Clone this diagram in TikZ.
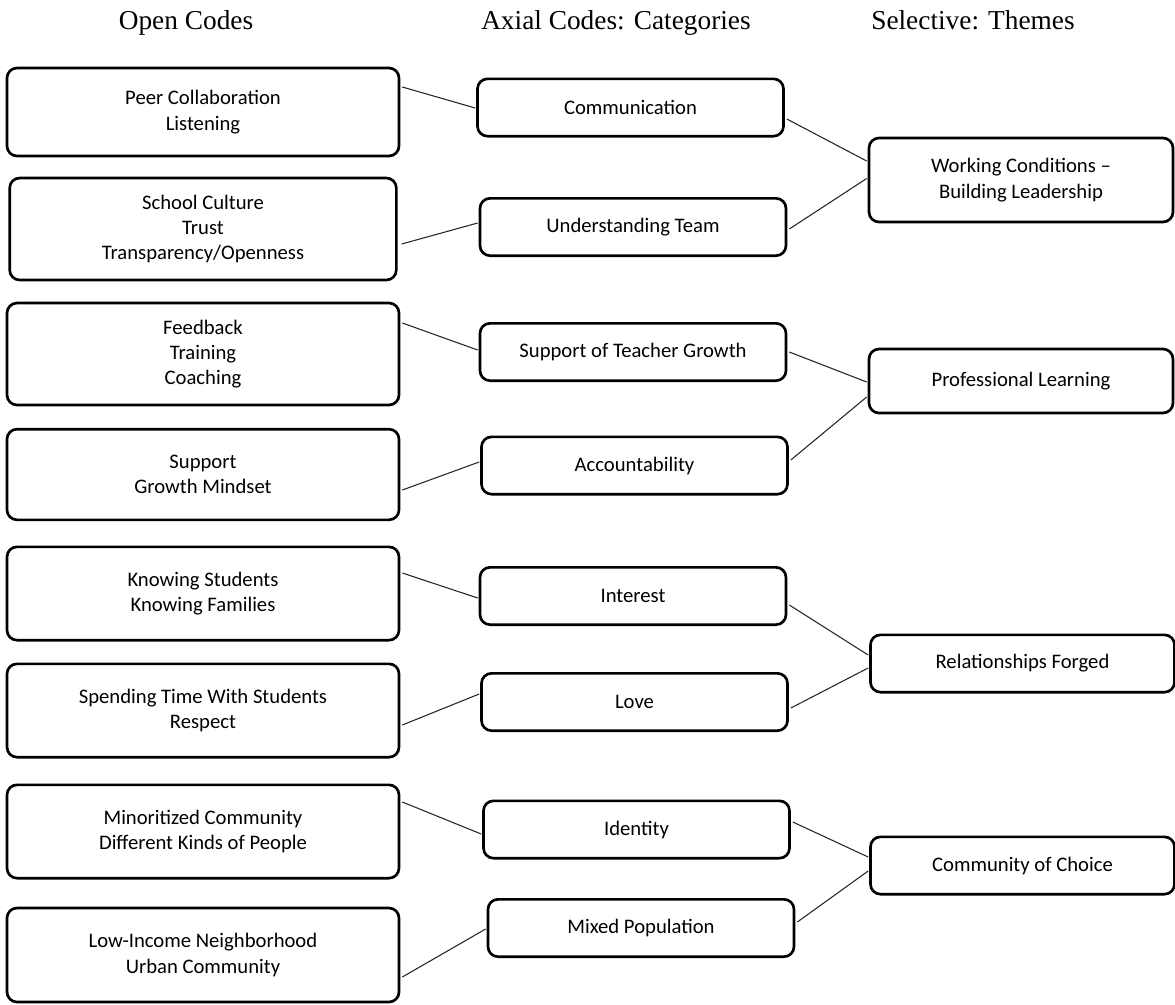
\documentclass[tikz,border=0pt]{standalone}
\usepackage{fontspec}
\setmainfont{Liberation Serif}
\newfontfamily\codefont{Carlito}
\usetikzlibrary{calc}

\tikzset{
  header/.style={anchor=base,inner sep=0pt,font=\fontsize{20.5}{24}\selectfont},
  codebox/.style={draw=black,line width=2pt,rounded corners=7.5pt,align=center,inner sep=0pt,
    font=\codefont\fontsize{15.5}{19}\selectfont},
  opencode/.style={codebox,minimum width=294pt},
  axialcode/.style={codebox,minimum width=229.5pt,minimum height=43pt},
  themebox/.style={codebox,minimum width=228pt},
  link/.style={draw=black!85,line width=0.8pt}
}

\begin{document}
\begin{tikzpicture}[x=0.75pt,y=-0.75pt]
\useasboundingbox (0,0) rectangle (1175,1004);

\node[header] (hopen) at (186,29.5) {Open Codes};
\node[header] (haxial) at (616,29.5) {Axial Codes: Categories};
\node[header] (htheme) at (973,29.5) {Selective: Themes};

\node[opencode,minimum height=66pt] (peer) at (203,112) {Peer Collaboration\\Listening};
\node[opencode,minimum height=76.5pt,minimum width=290pt] (culture) at (203,229) {School Culture\\Trust\\Transparency/Openness};
\node[opencode,minimum height=76.5pt] (feedback) at (203,354) {Feedback\\Training\\Coaching};
\node[opencode,minimum height=68pt] (support) at (203,474.5) {Support\\Growth Mindset};
\node[opencode,minimum height=70pt] (knowing) at (203,593.5) {Knowing Students\\Knowing Families};
\node[opencode,minimum height=70pt] (spending) at (203,710.5) {Spending Time With Students\\Respect};
\node[opencode,minimum height=70pt] (minority) at (203,831.5) {Minoritized Community\\Different Kinds of People};
\node[opencode,minimum height=70.5pt] (lowincome) at (203,955) {Low-Income Neighborhood\\Urban Community};

\node[axialcode] (comm) at (630.5,107.5) {Communication};
\node[axialcode] (team) at (633,227) {Understanding Team};
\node[axialcode] (growth) at (633,352) {Support of Teacher Growth};
\node[axialcode] (account) at (634.5,465.5) {Accountability};
\node[axialcode] (interest) at (633,596) {Interest};
\node[axialcode] (love) at (634.5,702) {Love};
\node[axialcode] (identity) at (636.5,829.5) {Identity};
\node[axialcode] (mixed) at (641,928) {Mixed Population};

\node[themebox,minimum height=63pt] (working) at (1021,180) {Working Conditions –\\Building Leadership};
\node[themebox,minimum height=48pt] (proflearn) at (1021,381) {Professional Learning};
\node[themebox,minimum height=43pt] (relations) at (1022.5,663.5) {Relationships Forged};
\node[themebox,minimum height=43pt] (choice) at (1022.5,865.5) {Community of Choice};

\draw[link] ($(peer.east)+(2,-25)$) -- ($(comm.west)+(-1,0.5)$);
\draw[link] ($(culture.east)+(4,15)$) -- ($(team.west)+(-1,-4)$);
\draw[link] ($(feedback.east)+(2,-31)$) -- ($(growth.west)+(-1,-2)$);
\draw[link] ($(support.east)+(2,15.5)$) -- ($(account.west)+(-1,-3.5)$);
\draw[link] ($(knowing.east)+(2,-20.5)$) -- ($(interest.west)+(-1,2)$);
\draw[link] ($(spending.east)+(2,14.5)$) -- ($(love.west)+(-1,-8)$);
\draw[link] ($(minority.east)+(2,-29.5)$) -- ($(identity.west)+(-1,4.5)$);
\draw[link] ($(lowincome.east)+(2,22)$) -- ($(mixed.west)+(-1,1)$);

\draw[link] ($(comm.east)+(2,11.5)$) -- ($(working.west)+(-1,-19)$);
\draw[link] ($(team.east)+(2,2)$) -- ($(working.west)+(-1,-1.5)$);
\draw[link] ($(growth.east)+(2,0)$) -- ($(proflearn.west)+(-1,1)$);
\draw[link] ($(account.east)+(2,-5.5)$) -- ($(proflearn.west)+(-1,16)$);
\draw[link] ($(interest.east)+(2,9)$) -- ($(relations.west)+(-1,-8.5)$);
\draw[link] ($(love.east)+(2,6)$) -- ($(relations.west)+(-1,4.5)$);
\draw[link] ($(identity.east)+(2,-7.5)$) -- ($(choice.west)+(-1,-8.5)$);
\draw[link] ($(mixed.east)+(2,-6)$) -- ($(choice.west)+(-1,5.5)$);

\end{tikzpicture}
\end{document}
